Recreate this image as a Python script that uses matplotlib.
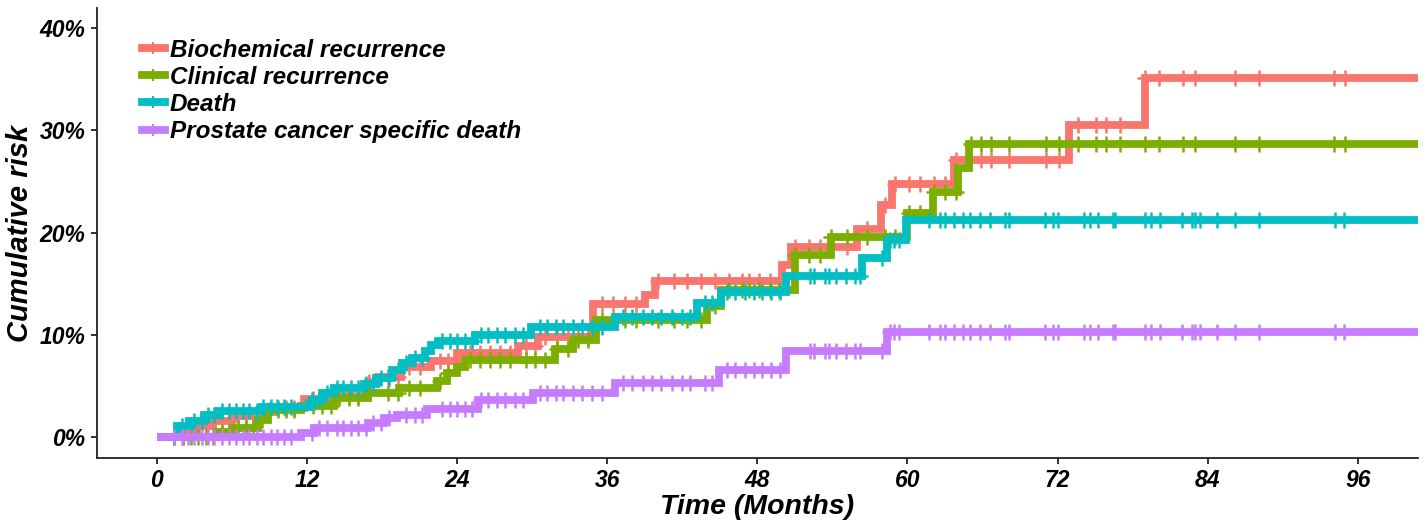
import numpy as np
import matplotlib
matplotlib.use("Agg")
import matplotlib.pyplot as plt
from matplotlib.lines import Line2D

# ---------------- data (months, cumulative risk in %) ----------------
labels = ["Biochemical recurrence", "Clinical recurrence", "Death",
          "Prostate cancer specific death"]
colors = ["#F8766D", "#7CAE00", "#00BFC4", "#C77CFF"]

bcr_t = [0, 2.2, 3.2, 4.5, 6.0, 7.8, 9.5, 11.8, 14.2, 16.9, 17.7, 19.5, 21.9, 24.0,
         28.9, 30.5, 34.9, 39.0, 39.8, 50.0, 50.7, 56.0, 57.9, 58.8, 63.7, 72.9, 79.0, 102]
bcr_v = [0, 0.6, 1.1, 1.6, 2.1, 2.5, 2.9, 3.7, 4.0, 5.4, 5.9, 6.9, 7.5, 8.2,
         8.9, 9.8, 13.0, 13.9, 15.3, 16.8, 18.6, 20.4, 22.7, 24.8, 27.1, 30.5, 35.1, 35.1]

cr_t = [0, 4.85, 6.2, 8.1, 8.9, 11.5, 14.2, 16.9, 19.4, 22.4, 23.2, 24.0, 24.6, 31.8,
        33.3, 35.1, 44.0, 45.1, 51.0, 53.9, 60.0, 62.0, 64.0, 64.9, 102]
cr_v = [0, 0.55, 0.9, 1.7, 2.7, 3.1, 3.8, 4.3, 4.8, 5.5, 6.3, 6.9, 7.6, 8.6,
        9.5, 11.5, 12.8, 14.4, 17.8, 19.6, 21.9, 24.0, 26.3, 28.7, 28.7]

death_t = [0, 1.6, 2.6, 3.8, 4.9, 8.4, 12.4, 13.2, 14.2, 16.6, 17.5, 18.8, 19.6, 20.4,
           21.4, 21.9, 22.5, 25.4, 29.9, 36.6, 43.2, 45.1, 50.3, 56.4, 58.4, 59.9, 102]
death_v = [0, 1.1, 1.6, 2.2, 2.6, 3.0, 3.6, 4.3, 4.8, 5.2, 5.8, 6.6, 7.3, 7.8,
           8.4, 9.0, 9.4, 10.0, 10.8, 11.8, 13.1, 14.2, 15.8, 17.5, 19.3, 21.2, 21.2]

pcsd_t = [0, 11.5, 12.6, 16.9, 18.2, 19.2, 21.6, 25.7, 30.1, 36.6, 44.9, 50.3, 58.4, 102]
pcsd_v = [0, 0.4, 0.9, 1.4, 1.9, 2.2, 2.8, 3.6, 4.3, 5.3, 6.6, 8.4, 10.3, 10.3]

# censoring times (months)
cens_recur = [1.4, 2.1, 2.7, 3.3, 3.9, 4.5, 5.2, 5.8, 6.5, 7.1, 7.7, 8.4, 9.0, 9.7, 10.3,
              11.0, 12.5, 13.2, 13.9, 14.6, 15.4, 16.1, 17.0, 18.5, 19.3, 20.2, 21.0,
              22.6, 23.3, 25.0, 25.8, 26.6, 27.4, 28.2, 29.5, 30.2, 31.0, 32.0, 32.9,
              33.7, 34.5, 35.6, 36.5, 37.4, 38.3, 40.1, 41.3, 42.4, 43.5, 44.6, 45.7,
              46.8, 47.3, 48.1, 49.0, 49.7, 51.0, 52.1, 53.0, 53.9, 55.2, 56.8, 58.2,
              59.0, 60.1, 61.0, 62.1, 63.0, 63.9, 65.1, 65.9, 66.7, 68.1, 71.1, 72.1,
              73.6, 75.1, 75.9, 77.0, 79.0, 80.1, 82.0, 83.0, 86.2, 88.1, 94.1, 95.0]
cens_death = [1.4, 2.0, 2.5, 3.0, 3.6, 4.1, 4.6, 5.2, 5.8, 6.3, 6.9, 7.4, 8.0, 8.5, 9.1,
              9.6, 10.2, 10.7, 12.4, 13.0, 13.6, 14.4, 14.9, 15.5, 16.1, 16.7, 17.3,
              17.9, 18.6, 19.9, 20.6, 21.2, 22.8, 23.4, 24.0, 24.6, 25.2, 25.9, 26.5,
              27.2, 27.8, 28.6, 29.3, 30.6, 31.2, 31.9, 32.5, 33.3, 34.0, 34.8, 35.6,
              37.3, 38.0, 38.9, 39.6, 40.3, 41.2, 42.0, 42.6, 43.8, 44.4, 45.6, 46.2,
              47.0, 47.7, 48.4, 49.1, 49.8, 52.2, 52.5, 53.4, 53.7, 54.3, 55.1, 55.8,
              56.2, 58.0, 58.6, 58.9, 59.3, 61.7, 62.6, 63.0, 63.7, 64.4, 65.0, 65.8,
              66.6, 67.8, 68.1, 71.0, 71.6, 72.0, 74.1, 74.6, 75.2, 76.4, 76.6, 79.0,
              79.5, 80.2, 81.9, 82.7, 83.0, 83.4, 84.7, 86.2, 88.1, 94.2, 94.9]

x_ticks = [0, 12, 24, 36, 48, 60, 72, 84, 96]
y_ticks = [0, 10, 20, 30, 40]
y_ticklabels = ["0%", "10%", "20%", "30%", "40%"]

series = [(bcr_t, bcr_v, cens_recur), (cr_t, cr_v, cens_recur),
          (death_t, death_v, cens_death), (pcsd_t, pcsd_v, cens_death)]

# ---------------- figure ----------------
plt.rcParams['font.family'] = ['Liberation Sans', 'DejaVu Sans']
fig = plt.figure(figsize=(14.26, 5.23), dpi=100)
ax = fig.add_axes([0.0678, 0.1237, 0.9944 - 0.0678, 0.9855 - 0.1237])

LW = 5.6
for (t, v, cens), col in zip(series, colors):
    t = np.asarray(t, float)
    v = np.asarray(v, float)
    ax.step(t, v, where='post', color=col, lw=LW, solid_joinstyle='miter',
            solid_capstyle='butt', zorder=2)
    c = np.asarray(cens, float)
    idx = np.searchsorted(t, c, side='right') - 1
    ax.plot(c, v[idx], linestyle='none', marker='+', markersize=12,
            markeredgewidth=1.8, color=col, zorder=2)

ax.set_xlim(-4.8, 100.8)
ax.set_ylim(-2.05, 42)
ax.set_xticks(x_ticks)
ax.set_xticklabels([str(x) for x in x_ticks])
ax.set_yticks(y_ticks)
ax.set_yticklabels(y_ticklabels)
for s in ['top', 'right']:
    ax.spines[s].set_visible(False)
for s in ['left', 'bottom']:
    ax.spines[s].set_linewidth(1.3)
    ax.spines[s].set_color('#222222')
ax.tick_params(axis='both', direction='out', length=4, width=1.3, color='#222222',
               pad=4)
for lab in ax.get_xticklabels() + ax.get_yticklabels():
    lab.set_fontsize(16.5)
    lab.set_fontweight('bold')
    lab.set_fontstyle('italic')
    lab.set_color('black')

ax.set_xlabel("Time (Months)", fontsize=20.5, fontweight='bold', fontstyle='italic',
              labelpad=1)
ax.set_ylabel("Cumulative risk", fontsize=21, fontweight='bold', fontstyle='italic',
              labelpad=4)

handles = [Line2D([0], [0], color=c, lw=LW, marker='+', markersize=9,
                  markeredgewidth=1.6) for c in colors]
leg = ax.legend(handles, labels, loc='upper left', bbox_to_anchor=(0.034, 0.931),
                frameon=False, borderpad=0, borderaxespad=0, handlelength=0.95,
                handletextpad=0.2, labelspacing=0.17,
                prop={'family': 'Liberation Sans', 'weight': 'bold',
                      'style': 'italic', 'size': 17.5})

fig.savefig("out.png", dpi=100)
